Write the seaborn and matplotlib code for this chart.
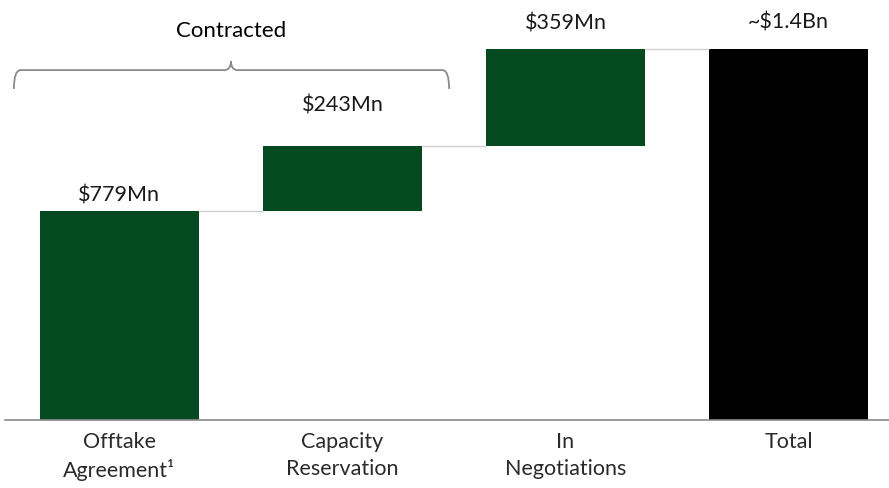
import matplotlib
matplotlib.use("Agg")
import matplotlib.pyplot as plt
from matplotlib.path import Path
from matplotlib.patches import PathPatch
import seaborn as sns
import numpy as np

# Waterfall components ($Mn)
categories = ["Offtake\nAgreement¹", "Capacity\nReservation", "In\nNegotiations", "Total"]
increments = [779, 243, 359]
value_labels = ["$779Mn", "$243Mn", "$359Mn", "~$1.4Bn"]
bracket_label = "Contracted"

total = sum(increments)
heights = increments + [total]
bottoms = list(np.cumsum([0] + increments[:-1])) + [0]
tops = [b + h for b, h in zip(bottoms, heights)]

GREEN = "#034a20"
bar_colors = [GREEN, GREEN, GREEN, "#000000"]
# vertical gap (pixels) between a bar's top and the centre of its label
label_gaps = [16, 41, 27, 28]

sns.set_theme(style="white")
plt.rcParams["font.family"] = ["Lato", "DejaVu Sans"]

fig = plt.figure(figsize=(8.89, 4.89), dpi=100)
ax = fig.add_axes([0.0056, 0.139, 0.9944, 0.861])

sns.barplot(x=categories, y=heights, bottom=bottoms, color=GREEN,
            width=0.713, saturation=1, ax=ax)
for patch, c in zip(ax.patches, bar_colors):
    patch.set_facecolor(c)
    patch.set_edgecolor("none")

ax.set_xlim(-0.513, 3.45)
ax.set_ylim(0, 1569)

# connector lines between consecutive bars
patches = ax.patches
for i in range(len(patches) - 1):
    x0 = patches[i].get_x() + patches[i].get_width()
    x1 = patches[i + 1].get_x()
    ax.hlines(tops[i], x0, x1, color="#d0d0d0", lw=1.0, zorder=1)

# value labels
for i, (p, lab) in enumerate(zip(patches, value_labels)):
    ax.annotate(lab, (p.get_x() + p.get_width() / 2, tops[i]),
                xytext=(0, label_gaps[i]), textcoords="offset pixels",
                ha="center", va="center", fontsize=15.5, color="#1a1a1a")

# curly bracket over the contracted components
xl, xm, xr = -0.473, 0.50, 1.478
yh, ye, yt = 1304, 1234, 1338
r = 0.03
verts = [(xl, ye), (xl, yh), (xl + r, yh),
         (xm - r, yh), (xm, yh), (xm, yt),
         (xm, yh), (xm + r, yh),
         (xr - r, yh), (xr, yh), (xr, ye)]
codes = [Path.MOVETO, Path.CURVE3, Path.CURVE3,
         Path.LINETO, Path.CURVE3, Path.CURVE3,
         Path.CURVE3, Path.CURVE3,
         Path.LINETO, Path.CURVE3, Path.CURVE3]
ax.add_patch(PathPatch(Path(verts, codes), fill=False, edgecolor="#8a8a8a",
                       lw=1.3, clip_on=False))
ax.text(xm, 1455, bracket_label, ha="center", va="center",
        fontsize=16, color="#000000")

sns.despine(ax=ax, left=True, top=True, right=True)
ax.spines["bottom"].set_color("#8a8a8a")
ax.spines["bottom"].set_linewidth(1.2)
ax.set_yticks([])
ax.tick_params(axis="x", length=0, pad=8, labelsize=15.5, colors="#2a2a2a")
for t in ax.get_xticklabels():
    t.set_linespacing(1.4)
ax.set_xlabel("")
ax.set_ylabel("")

fig.savefig("out.png", dpi=100)
